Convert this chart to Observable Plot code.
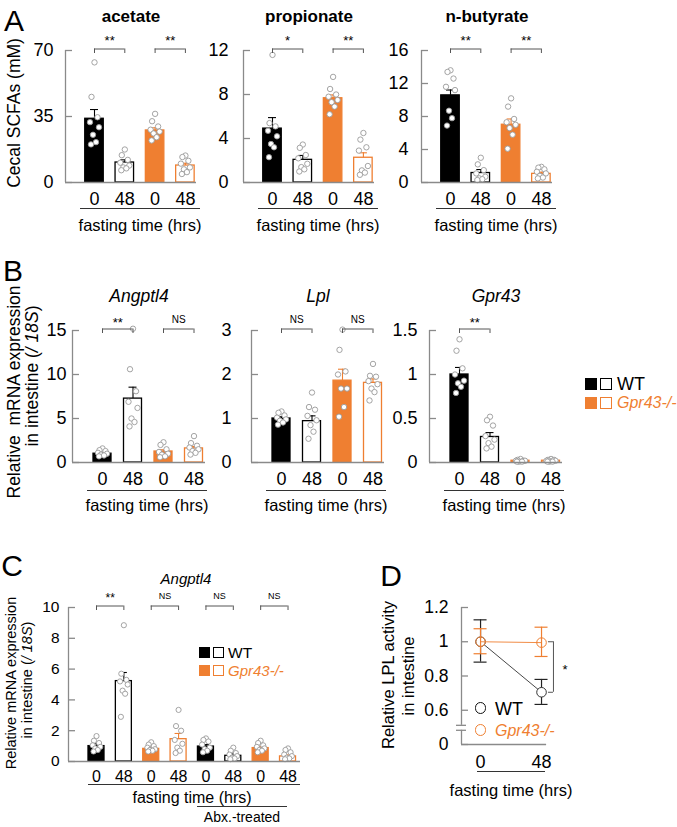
<!DOCTYPE html>
<html><head><meta charset="utf-8">
<script src="https://cdn.jsdelivr.net/npm/d3@7"></script>
<script src="https://cdn.jsdelivr.net/npm/@observablehq/plot@0.6"></script>
<style>
html,body{margin:0;padding:0;background:#fff;}
#root{position:relative;width:677px;height:827px;overflow:hidden;background:#fff;font-family:"Liberation Sans",Arial,Helvetica,sans-serif;color:#000;}
.t{position:absolute;white-space:nowrap;line-height:1;}
.ln{position:absolute;height:0;border-top:1.2px solid #333;}
.sq{position:absolute;box-sizing:border-box;}
.ci{position:absolute;box-sizing:border-box;border-radius:50%;background:#fff;}
</style></head>
<body><div id="root"></div>
<script>
// ---------------- DATA ----------------
const timeLabels = ["0", "48", "0", "48"];
const genotypes = ["WT", "Gpr43-/-"];

// Panel A: cecal SCFAs (mM)
const scfaTitles = ["acetate", "propionate", "n-butyrate"];
const acetateMean = [33.8, 10.6, 27.6, 9.0];
const acetateSem = [4.9, 1.4, 1.4, 1.2];
const acetateDots = [
  [63.7, 45.4, 34.6, 32.0, 29.3, 25.3, 21.4, 20.2],
  [17.5, 14.5, 12.0, 10.5, 9.0, 8.0, 7.5, 6.5],
  [36.4, 32.5, 29.7, 28.0, 27.0, 26.0, 24.0, 22.3],
  [14.3, 13.5, 11.5, 10.0, 8.0, 7.0, 5.5, 4.5]
];
const acetateTicks = [0, 35, 70];
const acetateSig = [["**", 0, 1], ["**", 2, 3]];

const propionateMean = [4.9, 2.06, 7.66, 2.25];
const propionateSem = [1.0, 0.4, 0.3, 0.45];
const propionateDots = [
  [11.6, 5.4, 5.1, 4.7, 4.2, 3.5, 3.2, 2.3],
  [3.45, 3.15, 2.5, 2.2, 1.7, 1.4, 1.2, 1.0],
  [9.6, 8.5, 8.0, 7.8, 7.5, 7.3, 6.9, 6.2],
  [4.5, 3.9, 3.2, 2.9, 1.5, 1.1, 0.9, 0.7]
];
const propionateTicks = [0, 4, 8, 12];
const propionateSig = [["*", 0, 1], ["**", 2, 3]];

const butyrateMean = [10.56, 1.15, 7.0, 1.05];
const butyrateSem = [0.65, 0.42, 0.7, 0.2];
const butyrateDots = [
  [13.6, 13.4, 12.6, 11.6, 11.2, 8.7, 7.8, 6.9],
  [3.0, 2.2, 1.5, 1.1, 0.7, 0.5, 0.4, 0.3],
  [10.2, 9.2, 7.7, 7.3, 7.0, 6.6, 5.8, 4.1],
  [1.9, 1.8, 1.6, 1.3, 1.1, 0.8, 0.6, 0.5]
];
const butyrateTicks = [0, 4, 8, 12, 16];
const butyrateSig = [["**", 0, 1], ["**", 2, 3]];

// Panel B: relative mRNA expression in intestine (/18S)
const geneTitles = ["Angptl4", "Lpl", "Gpr43"];
const angptl4Mean = [1.0, 7.26, 1.25, 1.6];
const angptl4Sem = [0.1, 1.3, 0.2, 0.22];
const angptl4Dots = [
  [1.6, 1.4, 1.3, 1.1, 1.0, 0.9, 0.8, 0.7],
  [15.2, 10.6, 8.1, 6.9, 6.2, 5.0, 4.6, 4.1],
  [2.3, 2.0, 1.5, 1.2, 1.0, 0.9, 0.7, 0.6],
  [3.0, 2.2, 1.9, 1.7, 1.5, 1.3, 1.1, 0.9]
];
const angptl4Ticks = [0, 5, 10, 15];
const angptl4Sig = [["**", 0, 1], ["NS", 2, 3]];

const lplMean = [1.0, 0.94, 1.86, 1.81];
const lplSem = [0.04, 0.12, 0.26, 0.09];
const lplDots = [
  [1.16, 1.13, 1.07, 1.02, 0.98, 0.95, 0.91, 0.86],
  [1.59, 1.26, 1.2, 1.06, 0.96, 0.85, 0.7, 0.54],
  [3.02, 2.56, 2.07, 2.0, 1.68, 1.68, 1.26, 1.04],
  [2.24, 1.97, 1.95, 1.85, 1.78, 1.68, 1.6, 1.41]
];
const lplTicks = [0, 1, 2, 3];
const lplSig = [["NS", 0, 1], ["NS", 2, 3]];

const gpr43Mean = [1.0, 0.29, 0.02, 0.02];
const gpr43Sem = [0.08, 0.05, 0.004, 0.004];
const gpr43Dots = [
  [1.4, 1.27, 1.07, 1.0, 0.93, 0.9, 0.86, 0.79],
  [0.52, 0.48, 0.42, 0.3, 0.26, 0.22, 0.18, 0.16],
  [0.04, 0.03, 0.02, 0.02, 0.02, 0.01, 0.01, 0.01],
  [0.04, 0.03, 0.03, 0.02, 0.02, 0.01, 0.01, 0.01]
];
const gpr43Ticks = [0, 0.5, 1, 1.5];
const gpr43Sig = [["**", 0, 1]];

// Panel C: Angptl4, with Abx.-treated groups
const cLabels = ["0", "48", "0", "48", "0", "48", "0", "48"];
const cMean = [1.0, 5.22, 0.82, 1.45, 0.97, 0.37, 0.87, 0.33];
const cSem = [0.15, 0.56, 0.1, 0.37, 0.13, 0.12, 0.1, 0.09];
const cDots = [
  [1.65, 1.35, 1.2, 1.05, 0.95, 0.85, 0.75, 0.65],
  [8.85, 5.7, 5.3, 5.2, 5.0, 4.6, 4.4, 2.9],
  [1.25, 1.1, 1.0, 0.9, 0.8, 0.75, 0.7, 0.65],
  [3.35, 2.3, 2.0, 1.4, 1.15, 0.9, 0.7, 0.55],
  [1.5, 1.4, 1.3, 1.1, 0.9, 0.8, 0.7, 0.6],
  [0.9, 0.7, 0.55, 0.45, 0.35, 0.25, 0.2, 0.15],
  [1.35, 1.2, 1.05, 0.95, 0.85, 0.75, 0.7, 0.6],
  [0.85, 0.75, 0.6, 0.45, 0.35, 0.25, 0.2, 0.15]
];
const cTicks = [0, 2, 4, 6, 8, 10];
const cSig = [["**", 0, 1], ["NS", 2, 3], ["NS", 4, 5], ["NS", 6, 7]];

// Panel D: relative LPL activity
const dTime = [0, 48];
const dWT = [1.0, 0.705];
const dWTlo = [0.881, 0.634];
const dWThi = [1.128, 0.78];
const dKO = [1.0, 0.995];
const dKOlo = [0.93, 0.914];
const dKOhi = [1.076, 1.085];
const dTicks = [0.6, 0.8, 1.0, 1.2];
const dTickLabels = ["0.6", "0.8", "1", "1.2"];
const dSig = "*";

// ---------------- STYLE ----------------
const FONT = '"Liberation Sans", Arial, Helvetica, sans-serif';
const ORANGE = "#ef7f31";
const AXIS = "#8a8a8a";
const BRK = "#555";
const DOTC = "#9a9a9a";
const JIT = [0, -3, 3, -4.5, 4.5, -1.5, 1.5, -3.5];
const root = document.getElementById("root");

function place(svg, left, top) {
  const w = document.createElement("div");
  w.style.cssText = `position:absolute;left:${left}px;top:${top}px;`;
  svg.style.maxWidth = "none";
  w.appendChild(svg);
  root.appendChild(w);
}
function T(x, y, html, o = {}) {
  const d = document.createElement("div");
  d.className = "t";
  d.innerHTML = html;
  const ax = o.ax ?? -50;
  d.style.left = x + "px";
  d.style.top = y + "px";
  d.style.fontSize = (o.size || 16) + "px";
  d.style.fontWeight = o.bold ? "bold" : "normal";
  d.style.fontStyle = o.italic ? "italic" : "normal";
  d.style.color = o.color || "#000";
  d.style.transform = `translate(${ax}%, -50%)` + (o.rot ? " rotate(-90deg)" : "");
  root.appendChild(d);
}
function L(x1, x2, y) {
  const d = document.createElement("div");
  d.className = "ln";
  d.style.left = x1 + "px"; d.style.top = y + "px"; d.style.width = (x2 - x1) + "px";
  root.appendChild(d);
}
function S(x, y, s, fill, stroke) {
  const d = document.createElement("div");
  d.className = "sq";
  d.style.cssText += `left:${x}px;top:${y}px;width:${s}px;height:${s}px;background:${fill};border:1.5px solid ${stroke};`;
  root.appendChild(d);
}
function C(cx, cy, r, stroke) {
  const d = document.createElement("div");
  d.className = "ci";
  d.style.cssText += `left:${cx - r}px;top:${cy - r}px;width:${2 * r}px;height:${2 * r}px;border:1.8px solid ${stroke};`;
  root.appendChild(d);
}

function barPanel(c) {
  const n = c.mean.length;
  const mL = 60, mR = 14, mT = 34, mB = 36;
  const h = c.y0 - c.yTop;
  const xd = [-c.first / c.sp, (c.span - c.first) / c.sp];
  const hw = c.barW / 2 / c.sp;
  const u = c.yMax / h;
  const fillC = ["#000", "#fff", ORANGE, "#fff"];
  const strokeC = ["#000", "#000", ORANGE, ORANGE];
  const bars = c.mean.map((m, i) => ({i, m, hi: m + c.sem[i], fill: fillC[i % 4], stroke: strokeC[i % 4]}));
  const pts = c.dots.flatMap((arr, i) => arr.map((v, j) => ({x: i + JIT[j % JIT.length] * c.jit / c.sp, v})));
  const yB = c.yMax + 1.5 * u;
  const br = c.sig.map(([lab, a, b]) => ({lab, a, b}));
  const capW = c.cap / c.sp;
  const svg = Plot.plot({
    width: mL + c.span + mR, height: mT + h + mB,
    marginLeft: mL, marginRight: mR, marginTop: mT, marginBottom: mB,
    x: {domain: xd}, y: {domain: [0, c.yMax]},
    color: {type: "identity"},
    style: {fontFamily: FONT, background: "transparent", overflow: "visible", color: "#000"},
    marks: [
      Plot.rectY(bars, {x1: d => d.i - hw, x2: d => d.i + hw, y1: 0, y2: "m", fill: "fill", stroke: "stroke", strokeWidth: 1.3}),
      Plot.ruleX(bars, {x: "i", y1: "m", y2: "hi", stroke: "stroke", strokeWidth: 1.1}),
      Plot.ruleY(bars, {y: "hi", x1: d => d.i - capW, x2: d => d.i + capW, stroke: "stroke", strokeWidth: 1.1}),
      Plot.dot(pts, {x: "x", y: "v", r: c.r, fill: "#fff", stroke: DOTC, strokeWidth: 0.9}),
      Plot.ruleY([0], {stroke: AXIS, strokeWidth: 1.3}),
      Plot.ruleX([xd[0]], {y1: 0, y2: c.yMax, stroke: AXIS, strokeWidth: 1.3}),
      Plot.ruleY(c.ticks, {x1: xd[0], x2: xd[0] + 7 / c.sp, stroke: AXIS, strokeWidth: 1.3}),
      Plot.axisY({ticks: c.ticks, tickSize: 0, tickPadding: c.yPad, fontSize: c.yFont, tickFormat: d => String(d), label: null}),
      Plot.axisX({ticks: d3.range(n), tickSize: 0, tickPadding: c.xPad, fontSize: c.xFont, tickFormat: i => c.labels[i], label: null}),
      Plot.ruleY(br, {y: yB, x1: "a", x2: "b", stroke: BRK, strokeWidth: 1}),
      Plot.ruleX(br, {x: "a", y1: yB, y2: yB - 4.5 * u, stroke: BRK, strokeWidth: 1}),
      Plot.ruleX(br, {x: "b", y1: yB, y2: yB - 4.5 * u, stroke: BRK, strokeWidth: 1}),
      Plot.text(br.filter(d => d.lab !== "NS"), {x: d => (d.a + d.b) / 2, y: yB, dy: c.starDy, text: "lab", fontSize: c.starFont, fill: "#000"}),
      Plot.text(br.filter(d => d.lab === "NS"), {x: d => (d.a + d.b) / 2, y: yB, dy: c.nsDy, text: "lab", fontSize: c.nsFont, fill: "#000"})
    ]
  });
  place(svg, c.axisX - mL, c.yTop - mT);
}

// ---------------- PANEL A ----------------
T(14, 21, "A", {size: 30});
const aAxes = [65, 243, 421];
const aSets = [
  [acetateMean, acetateSem, acetateDots, acetateTicks, acetateSig, 12],
  [propionateMean, propionateSem, propionateDots, propionateTicks, propionateSig, 15],
  [butyrateMean, butyrateSem, butyrateDots, butyrateTicks, butyrateSig, 13]
];
aSets.forEach(([mean, sem, dots, ticks, sig, yPad], k) => {
  const ax = aAxes[k];
  barPanel({axisX: ax, yTop: 50, y0: 182, first: 29, sp: 30.3, span: 131, barW: 18.5,
    yMax: ticks[ticks.length - 1], ticks, mean, sem, dots, sig, labels: timeLabels,
    yFont: 18, yPad, xFont: 18, xPad: 10, r: 2.7, jit: 1, cap: 4,
    starFont: 13, starDy: -8, nsFont: 10, nsDy: -9});
  T(ax + 66, 16, scfaTitles[k], {size: 17, bold: true});
  L(ax + 15, ax + 135, 208);
  T(ax + 75, 225, "fasting time (hrs)", {size: 16.5});
});
T(15, 113, "Cecal SCFAs (mM)", {size: 17.5, rot: true});

// ---------------- PANEL B ----------------
T(13, 271, "B", {size: 30});
const bAxes = [72, 251, 429];
const bSets = [
  [angptl4Mean, angptl4Sem, angptl4Dots, angptl4Ticks, angptl4Sig, 6],
  [lplMean, lplSem, lplDots, lplTicks, lplSig, 20],
  [gpr43Mean, gpr43Sem, gpr43Dots, gpr43Ticks, gpr43Sig, 12]
];
bSets.forEach(([mean, sem, dots, ticks, sig, yPad], k) => {
  const ax = bAxes[k];
  barPanel({axisX: ax, yTop: 330, y0: 462, first: 30, sp: 30.5, span: 133, barW: 18,
    yMax: ticks[ticks.length - 1], ticks, mean, sem, dots, sig, labels: timeLabels,
    yFont: 18, yPad, xFont: 18, xPad: 10, r: 2.7, jit: 1, cap: 4,
    starFont: 13, starDy: -6, nsFont: 10, nsDy: -9});
  T(ax + 67, 297, geneTitles[k], {size: 17.5, italic: true});
  L(ax + 15, ax + 135, 490);
  T(ax + 75, 505, "fasting time (hrs)", {size: 16.5});
});
T(15, 392, "Relative&nbsp;&nbsp;mRNA expression", {size: 17.5, rot: true});
T(33, 376, "in intestine (<i>/ 18S</i>)", {size: 17.5, rot: true});
// legend B
S(585, 378, 12, "#000", "#000");
S(600, 378, 12, "#fff", "#000");
T(617, 384, genotypes[0], {size: 18, ax: 0});
S(585, 397, 12, ORANGE, ORANGE);
S(600, 397, 12, "#fff", ORANGE);
T(617, 403, genotypes[1], {size: 16, ax: 0, italic: true, color: ORANGE});

// ---------------- PANEL C ----------------
T(12, 566, "C", {size: 30});
barPanel({axisX: 68, yTop: 607, y0: 761, first: 28, sp: 27.36, span: 232, barW: 16,
  yMax: 10, ticks: cTicks, mean: cMean, sem: cSem, dots: cDots, sig: cSig, labels: cLabels,
  yFont: 15.5, yPad: 9, xFont: 16, xPad: 9, r: 2.6, jit: 0.85, cap: 3.5,
  starFont: 12, starDy: -8, nsFont: 9, nsDy: -10});
T(186, 578, "Angptl4", {size: 15, italic: true});
T(11, 683, "Relative mRNA expression", {size: 14.5, rot: true});
T(27, 680, "in intestine (<i>/ 18S</i>)", {size: 14.5, rot: true});
L(88, 300, 784);
T(192, 798, "fasting time (hrs)", {size: 16});
L(197, 287, 806);
T(242, 817, "Abx.-treated", {size: 14});
S(199, 647, 11, "#000", "#000");
S(213, 647, 11, "#fff", "#000");
T(228, 653, genotypes[0], {size: 15.5, ax: 0});
S(199, 665, 11, ORANGE, ORANGE);
S(213, 665, 11, "#fff", ORANGE);
T(228, 670, genotypes[1], {size: 15, ax: 0, italic: true, color: ORANGE});

// ---------------- PANEL D ----------------
T(391, 576, "D", {size: 30});
(function panelD() {
  const mL = 60, mR = 40, mT = 30, mB = 40;
  const axisPx = 461, endPx = 555, yTopPx = 607, y0Px = 744;
  const zeroPos = 0.4;             // where the broken-axis "0" sits
  const breakPos = [0.483, 0.512]; // axis break marks
  const xd = [-15, 59];
  const ux = (xd[1] - xd[0]) / (endPx - axisPx);
  const wt = dTime.map((t, i) => ({t, v: dWT[i], lo: dWTlo[i], hi: dWThi[i]}));
  const ko = dTime.map((t, i) => ({t, v: dKO[i], lo: dKOlo[i], hi: dKOhi[i]}));
  const tickPos = [zeroPos, ...dTicks];
  const tickLab = ["0", ...dTickLabels];
  const capW = 6.5 * ux;
  const bx = 57.4;
  const svg = Plot.plot({
    width: mL + (endPx - axisPx) + mR, height: mT + (y0Px - yTopPx) + mB,
    marginLeft: mL, marginRight: mR, marginTop: mT, marginBottom: mB,
    x: {domain: xd}, y: {domain: [zeroPos, 1.2]},
    style: {fontFamily: FONT, background: "transparent", overflow: "visible", color: "#000"},
    marks: [
      Plot.ruleX([xd[0]], {y1: zeroPos, y2: breakPos[0], stroke: AXIS, strokeWidth: 1.3}),
      Plot.ruleX([xd[0]], {y1: breakPos[1], y2: 1.2, stroke: AXIS, strokeWidth: 1.3}),
      Plot.ruleY(breakPos, {x1: xd[0] - 5 * ux, x2: xd[0] + 5 * ux, stroke: AXIS, strokeWidth: 1.3}),
      Plot.ruleY([zeroPos], {x1: xd[0], x2: 52, stroke: AXIS, strokeWidth: 1.3}),
      Plot.ruleY(tickPos, {x1: xd[0], x2: xd[0] + 7 * ux, stroke: AXIS, strokeWidth: 1.3}),
      Plot.axisY({ticks: tickPos, tickSize: 0, tickPadding: 13, fontSize: 17.5, tickFormat: (d, i) => tickLab[i], label: null}),
      Plot.axisX({ticks: dTime, tickSize: 0, tickPadding: 11, fontSize: 18, label: null}),
      Plot.line(wt, {x: "t", y: "v", stroke: "#333", strokeWidth: 0.9}),
      Plot.ruleX(wt, {x: "t", y1: "lo", y2: "hi", stroke: "#222", strokeWidth: 1.2}),
      Plot.ruleY(wt, {y: "lo", x1: d => d.t - capW, x2: d => d.t + capW, stroke: "#222", strokeWidth: 1.2}),
      Plot.ruleY(wt, {y: "hi", x1: d => d.t - capW, x2: d => d.t + capW, stroke: "#222", strokeWidth: 1.2}),
      Plot.dot(wt, {x: "t", y: "v", r: 4.8, fill: "#fff", stroke: "#333", strokeWidth: 1}),
      Plot.line(ko, {x: "t", y: "v", stroke: ORANGE, strokeWidth: 0.9}),
      Plot.ruleX(ko, {x: "t", y1: "lo", y2: "hi", stroke: ORANGE, strokeWidth: 1.2}),
      Plot.ruleY(ko, {y: "lo", x1: d => d.t - capW, x2: d => d.t + capW, stroke: ORANGE, strokeWidth: 1.2}),
      Plot.ruleY(ko, {y: "hi", x1: d => d.t - capW, x2: d => d.t + capW, stroke: ORANGE, strokeWidth: 1.2}),
      Plot.dot(ko, {x: "t", y: "v", r: 4.8, fill: "#fff", fillOpacity: 0, stroke: ORANGE, strokeWidth: 1}),
      Plot.ruleX([bx], {y1: dWT[1], y2: dKO[0], stroke: BRK, strokeWidth: 1}),
      Plot.ruleY([dWT[1], dKO[0]], {x1: bx - 5 * ux, x2: bx, stroke: BRK, strokeWidth: 1}),
      Plot.text([dSig], {x: bx + 11.5 * ux, y: (dWT[1] + dKO[0]) / 2, dy: 3, text: d => d, fontSize: 13, fill: "#000"})
    ]
  });
  place(svg, axisPx - mL, yTopPx - mT);
})();
C(480.5, 708, 5.8, "#111");
T(495, 709, genotypes[0], {size: 18, ax: 0});
C(480.5, 730, 5.8, ORANGE);
T(495, 731, genotypes[1], {size: 16, ax: 0, italic: true, color: ORANGE});
L(477, 545, 771);
T(511, 790, "fasting time (hrs)", {size: 16.5});
T(388, 675, "Relative LPL activity", {size: 16.5, rot: true});
T(408, 676, "in intestine", {size: 16.5, rot: true});
</script>
</body></html>
